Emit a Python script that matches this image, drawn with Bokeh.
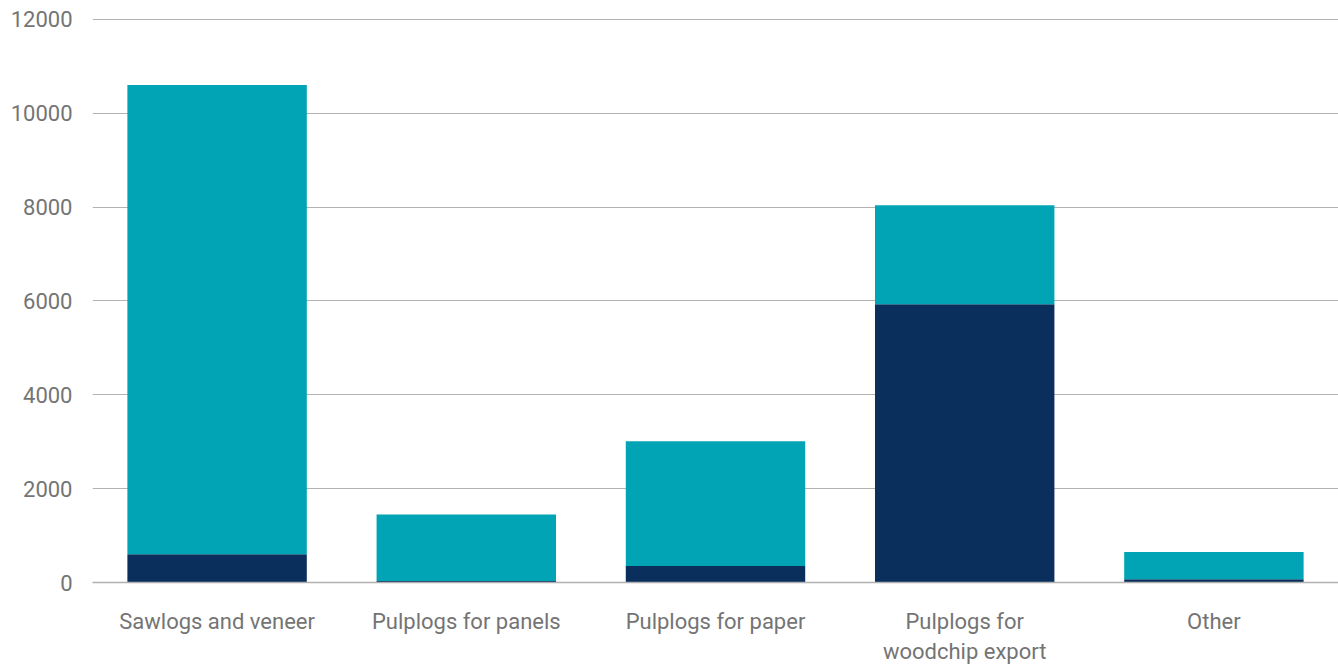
from bokeh.plotting import figure
from bokeh.models import ColumnDataSource, FixedTicker
from bokeh.embed import file_html
from bokeh.resources import INLINE

categories = ["Sawlogs and veneer", "Pulplogs for panels", "Pulplogs for paper",
              "Pulplogs for\nwoodchip export", "Other"]
series_dark = [600, 30, 350, 5930, 70]
series_teal = [10000, 1420, 2660, 2110, 580]
y_ticks = [0, 2000, 4000, 6000, 8000, 10000, 12000]

source = ColumnDataSource(dict(cat=categories, dark=series_dark, teal=series_teal))

p = figure(x_range=categories, y_range=(0, 12060),
           frame_width=1246, frame_height=566,
           min_border_left=92, min_border_right=0, min_border_top=16, min_border_bottom=82,
           output_backend="svg", toolbar_location=None, outline_line_color=None)

p.vbar_stack(["dark", "teal"], x="cat", width=0.72, source=source,
             color=["#0A2F5C", "#01A4B4"], line_color=None)

p.x_range.range_padding = 0
p.yaxis.ticker = FixedTicker(ticks=y_ticks)
p.ygrid.grid_line_color = "#b3b3b3"
p.ygrid.grid_line_width = 1
p.xgrid.grid_line_color = None

for ax in (p.xaxis[0], p.yaxis[0]):
    ax.major_label_text_font = "Roboto"
    ax.major_label_text_font_size = "22px"
    ax.major_label_text_color = "#747474"
    ax.major_tick_line_color = None
    ax.minor_tick_line_color = None

p.yaxis.axis_line_color = None
p.yaxis.major_label_standoff = 14
p.xaxis.axis_line_color = "#b0b0b0"
p.xaxis.axis_line_width = 1.5
p.xaxis.major_label_standoff = 20

open("out.html", "w").write(file_html(p, INLINE))
